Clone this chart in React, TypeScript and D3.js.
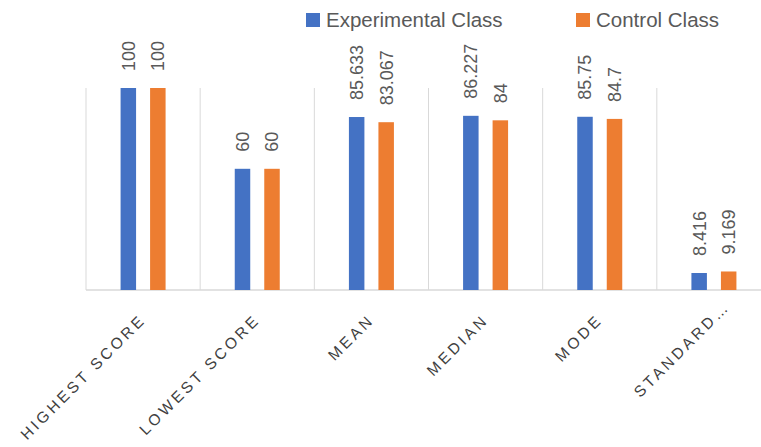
import * as d3 from 'd3';
import React, { useRef, useEffect } from 'react';

const width = 761;
const height = 447;
const margin = { top: 88, right: -10, bottom: 157, left: 86 };

const categories = ['HIGHEST SCORE', 'LOWEST SCORE', 'MEAN', 'MEDIAN', 'MODE', 'STANDARD…'];
const seriesNames = ['Experimental Class', 'Control Class'];
const experimental = [100, 60, 85.633, 86.227, 85.75, 8.416];
const control = [100, 60, 83.067, 84, 84.7, 9.169];
const valueLabels = [
  ['100', '60', '85.633', '86.227', '85.75', '8.416'],
  ['100', '60', '83.067', '84', '84.7', '9.169'],
];
const colors = ['#4472C4', '#ED7D31'];

const App = () => {
  const svgRef = useRef<SVGSVGElement>(null);

  useEffect(() => {
    document.body.style.margin = '0';
    const svg = d3.select(svgRef.current);
    svg.selectAll('*').remove();

    const x0 = d3.scaleBand()
      .domain(categories)
      .range([margin.left, width - margin.right])
      .padding(0);
    const groupWidth = 45;
    const x1 = d3.scaleBand()
      .domain(seriesNames)
      .range([0, groupWidth])
      .paddingInner(0.475)
      .paddingOuter(0);
    const y = d3.scaleLinear()
      .domain([0, 100])
      .range([height - margin.bottom, margin.top]);

    // vertical gridlines between categories
    const bounds = categories.map(c => x0(c)!).concat([x0(categories[categories.length - 1])! + x0.bandwidth()]);
    svg.append('g')
      .selectAll('line')
      .data(bounds)
      .join('line')
      .attr('x1', d => d).attr('x2', d => d)
      .attr('y1', y(100)).attr('y2', y(0))
      .attr('stroke', '#D9D9D9')
      .attr('stroke-width', 1);

    // baseline
    svg.append('line')
      .attr('x1', margin.left).attr('x2', width)
      .attr('y1', y(0)).attr('y2', y(0))
      .attr('stroke', '#D9D9D9')
      .attr('stroke-width', 1.3);

    const series = [experimental, control];
    series.forEach((values, si) => {
      const g = svg.append('g');
      g.selectAll('rect')
        .data(values)
        .join('rect')
        .attr('x', (_, i) => x0(categories[i])! + (x0.bandwidth() - groupWidth) / 2 + x1(seriesNames[si])!)
        .attr('width', x1.bandwidth())
        .attr('y', d => y(d))
        .attr('height', d => y(0) - y(d))
        .attr('fill', colors[si]);

      g.selectAll('text')
        .data(values)
        .join('text')
        .attr('transform', (d, i) => {
          const cx = x0(categories[i])! + (x0.bandwidth() - groupWidth) / 2 + x1(seriesNames[si])! + x1.bandwidth() / 2;
          return `translate(${cx},${y(d) - 17}) rotate(-90)`;
        })
        .attr('dy', '0.36em')
        .attr('text-anchor', 'start')
        .attr('font-family', 'Liberation Sans, Arial, sans-serif')
        .attr('font-size', 18)
        .attr('fill', '#595959')
        .text((_, i) => valueLabels[si][i]);
    });

    // category labels
    svg.append('g')
      .selectAll('text')
      .data(categories)
      .join('text')
      .attr('transform', d => `translate(${x0(d)! + x0.bandwidth() / 2 + 1.5},${y(0) + 33}) rotate(-45)`)
      .attr('dx', (d, i) => (i === categories.length - 1 ? 22 : 3.2))
      .attr('text-anchor', 'end')
      .attr('font-family', 'Liberation Sans, Arial, sans-serif')
      .attr('font-size', 15.5)
      .attr('letter-spacing', 3.2)
      .attr('fill', '#404040')
      .text(d => d);

    // legend
    const legendX = [306, 576];
    const legend = svg.append('g');
    seriesNames.forEach((name, i) => {
      legend.append('rect')
        .attr('x', legendX[i]).attr('y', 13)
        .attr('width', 14).attr('height', 14)
        .attr('fill', colors[i]);
      legend.append('text')
        .attr('x', legendX[i] + 20).attr('y', 27)
        .attr('font-family', 'Liberation Sans, Arial, sans-serif')
        .attr('font-size', 20.5)
        .attr('fill', '#595959')
        .text(name);
    });
  }, []);

  return <svg ref={svgRef} width={width} height={height} style={{ display: 'block' }} />;
};

export default App;
